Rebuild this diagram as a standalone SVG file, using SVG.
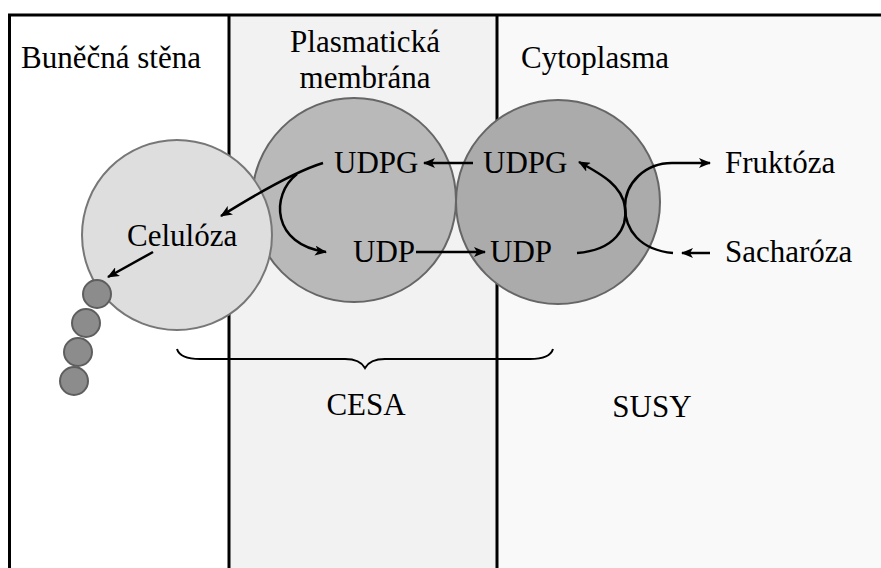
<svg xmlns="http://www.w3.org/2000/svg" width="881" height="568" viewBox="0 0 881 568">
<defs>
<marker id="ah" viewBox="0 0 12 10" refX="11" refY="5" markerWidth="12" markerHeight="10" markerUnits="userSpaceOnUse" orient="auto">
<path d="M0,0 L12,5 L0,10 L3,5 Z" fill="#000"/>
</marker>
</defs>
<rect x="0" y="0" width="881" height="568" fill="#fff"/>
<g id="lanes">
<rect x="9" y="15" width="220" height="553" fill="#fff"/>
<rect x="229" y="15" width="268" height="553" fill="#f2f2f2"/>
<rect x="497" y="15" width="384" height="553" fill="#f9f9f9"/>
<g stroke="#000" stroke-width="3" fill="none">
<line x1="8" y1="15" x2="881" y2="15"/>
<line x1="9.5" y1="14" x2="9.5" y2="568"/>
<line x1="229" y1="14" x2="229" y2="568"/>
<line x1="497" y1="14" x2="497" y2="568"/>
</g>
<text x="21" y="68" font-family="Liberation Serif" font-size="31">Buněčná stěna</text>
<text x="365" y="52" text-anchor="middle" font-family="Liberation Serif" font-size="31">Plasmatická</text>
<text x="365" y="88" text-anchor="middle" font-family="Liberation Serif" font-size="31">membrána</text>
<text x="521" y="68" font-family="Liberation Serif" font-size="31">Cytoplasma</text>
</g>
<g id="susy">
<circle cx="558" cy="202" r="102" fill="#ababab" stroke="#666" stroke-width="2"/>
<text x="483" y="173" font-family="Liberation Serif" font-size="31">UDPG</text>
<text x="490" y="262" font-family="Liberation Serif" font-size="31">UDP</text>
</g>
<g id="cesa">
<circle cx="354" cy="200" r="102" fill="#b9b9b9" stroke="#666" stroke-width="2"/>
<text x="334" y="173" font-family="Liberation Serif" font-size="31">UDPG</text>
<text x="353" y="262" font-family="Liberation Serif" font-size="31">UDP</text>
</g>
<g id="celuloza">
<circle cx="177" cy="235" r="95" fill="#dedede" stroke="#777" stroke-width="2"/>
<text x="127" y="246" font-family="Liberation Serif" font-size="31">Celulóza</text>
</g>
<g id="chain" fill="#8c8c8c" stroke="#5e5e5e" stroke-width="2">
<circle cx="97" cy="294" r="14"/>
<circle cx="86" cy="323" r="14"/>
<circle cx="78" cy="352" r="14"/>
<circle cx="74" cy="381" r="14"/>
</g>
<g id="fruktoza"><text x="725" y="173" font-family="Liberation Serif" font-size="31">Fruktóza</text></g>
<g id="sacharoza"><text x="725" y="262" font-family="Liberation Serif" font-size="31">Sacharóza</text></g>
<g id="labels">
<text x="366" y="415" text-anchor="middle" font-family="Liberation Serif" font-size="31">CESA</text>
<text x="652" y="417" text-anchor="middle" font-family="Liberation Serif" font-size="31">SUSY</text>
</g>
<g id="connectors" stroke="#000" stroke-width="2.5" fill="none">
<path marker-end="url(#ah)" d="M323,163 Q290,173 221,216"/>
<path marker-end="url(#ah)" d="M297,174 C270,195 272,245 326,252"/>
<path marker-end="url(#ah)" d="M153,252 L108,277"/>
<path marker-end="url(#ah)" d="M473,163 L424,163"/>
<path marker-end="url(#ah)" d="M416,252 L485,252"/>
<path marker-end="url(#ah)" d="M577,253 C615,250 628,228 625,207 C622,186 603,175 579,162"/>
<path marker-end="url(#ah)" d="M673,253 C640,250 625,230 625,207 C625,183 645,163 672,163 L710,163"/>
<path marker-end="url(#ah)" d="M710,253 L682,253"/>
<path stroke-width="2" d="M177,349 Q180,359 200,359 L345,359 Q360,359 365,368 Q370,359 385,359 L530,359 Q550,359 553,349"/>
</g>
</svg>
